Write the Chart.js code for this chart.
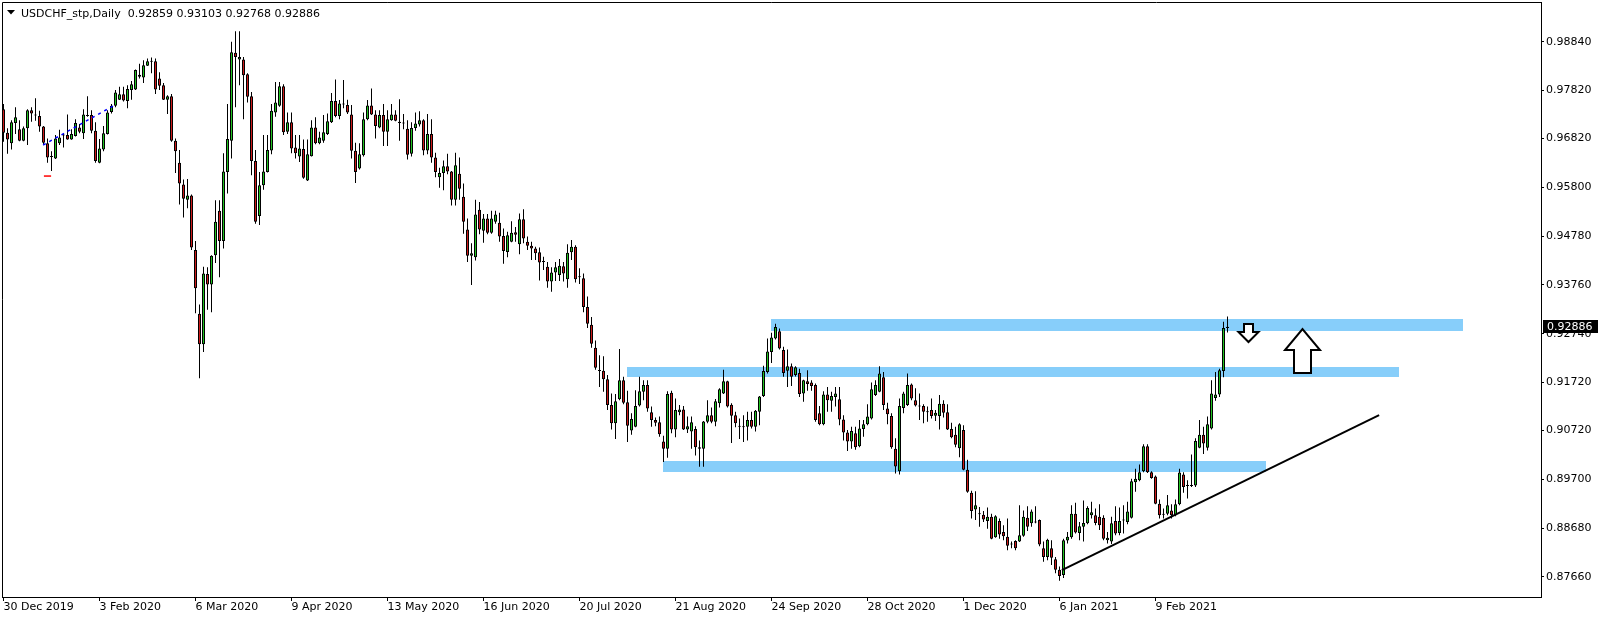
<!DOCTYPE html>
<html>
<head>
<meta charset="utf-8">
<script src="https://cdn.jsdelivr.net/npm/chart.js"></script>
<style>
  html, body { margin: 0; padding: 0; background: #fff; }
</style>
</head>
<body>
<canvas id="chart" width="1604" height="621"></canvas>
<script>
const symbol = 'USDCHF_stp';
const period = 'Daily';

// daily candles, 30 Dec 2019 .. 23 Feb 2021
const opens = [
  .9743,.9694,.9672,.9714,.9701,.9677,.9703,.9741,.9731,.9729,
  .9707,.9672,.9643,.9640,.9672,.9688,.9689,.9680,.9687,.9705,
  .9693,.9730,.9731,.9698,.9631,.9659,.9691,.9737,.9750,.9763,
  .9774,.9760,.9783,.9784,.9815,.9809,.9834,.9843,.9843,.9807,
  .9793,.9763,.9770,.9677,.9631,.9586,.9554,.9563,.9449,.9316,
  .9252,.9399,.9377,.9438,.9531,.9468,.9612,.9677,.9861,.9847,
  .9847,.9816,.9770,.9635,.9520,.9584,.9612,.9657,.9736,.9750,
  .9791,.9696,.9716,.9663,.9644,.9660,.9594,.9645,.9705,.9672,
  .9677,.9691,.9716,.9760,.9729,.9753,.9752,.9732,.9656,.9619,
  .9647,.9722,.9751,.9732,.9705,.9731,.9696,.9720,.9732,.9717,
  .9713,.9702,.9650,.9704,.9711,.9720,.9657,.9691,.9642,.9601,
  .9610,.9624,.9613,.9554,.9608,.9560,.9492,.9437,.9434,.9533,
  .9489,.9515,.9485,.9508,.9506,.9478,.9445,.9466,.9486,.9461,
  .9513,.9466,.9458,.9452,.9444,.9424,.9414,.9383,.9402,.9397,
  .9415,.9388,.9444,.9456,.9392,.9390,.9330,.9293,.9245,.9197,
  .9197,.9179,.9125,.9087,.9137,.9177,.9131,.9072,.9080,.9124,
  .9153,.9167,.9110,.9094,.9089,.9049,.9034,.9151,.9074,.9110,
  .9116,.9074,.9070,.9075,.9037,.9034,.9090,.9104,.9090,.9129,
  .9149,.9175,.9126,.9104,.9081,.9080,.9080,.9094,.9080,.9111,
  .9144,.9194,.9236,.9264,.9279,.9240,.9197,.9206,.9188,.9192,
  .9149,.9175,.9172,.9167,.9108,.9085,.9147,.9134,.9142,.9137,
  .9095,.9068,.9049,.9066,.9039,.9075,.9085,.9097,.9146,.9153,
  .9183,.9118,.9102,.9034,.8987,.9119,.9125,.9168,.9135,.9123,
  .9123,.9111,.9115,.9103,.9102,.9128,.9110,.9075,.9063,.9035,
  .9073,.8990,.8942,.8907,.8898,.8896,.8883,.8892,.8849,.8883,
  .8860,.8850,.8835,.8841,.8840,.8852,.8890,.8878,.8881,.8885,
  .8826,.8808,.8826,.8803,.8781,.8770,.8842,.8849,.8898,.8858,
  .8871,.8878,.8895,.8895,.8892,.8890,.8843,.8840,.8883,.8858,
  .8885,.8881,.8890,.8964,.8968,.8987,.9039,.8985,.8976,.8919,
  .8896,.8898,.8905,.8895,.8918,.8980,.8957,.8956,.8957,.9036,
  .9063,.9036,.9076,.9140,.9147,.9196,.92859
];
const highs = [
  .9754,.9703,.9720,.9747,.9720,.9707,.9743,.9747,.9766,.9740,
  .9708,.9682,.9655,.9689,.9700,.9693,.9732,.9701,.9722,.9712,
  .9743,.9770,.9741,.9716,.9681,.9708,.9741,.9754,.9783,.9790,
  .9790,.9793,.9802,.9826,.9838,.9845,.9849,.9851,.9849,.9820,
  .9798,.9772,.9775,.9682,.9658,.9596,.9597,.9565,.9468,.9335,
  .9414,.9413,.9438,.9553,.9553,.9651,.9754,.9884,.9906,.9906,
  .9852,.9818,.9779,.9658,.9612,.9689,.9689,.9754,.9800,.9800,
  .9795,.9736,.9736,.9689,.9689,.9680,.9680,.9720,.9726,.9696,
  .9731,.9734,.9777,.9805,.9762,.9804,.9763,.9752,.9673,.9672,
  .9736,.9762,.9786,.9741,.9741,.9754,.9741,.9754,.9741,.9764,
  .9733,.9720,.9716,.9736,.9739,.9722,.9733,.9722,.9652,.9621,
  .9636,.9650,.9614,.9652,.9642,.9588,.9515,.9463,.9554,.9549,
  .9524,.9524,.9531,.9531,.9527,.9494,.9487,.9509,.9497,.9525,
  .9534,.9477,.9466,.9456,.9454,.9435,.9424,.9413,.9424,.9430,
  .9424,.9461,.9470,.9459,.9411,.9400,.9352,.9309,.9260,.9229,
  .9227,.9188,.9149,.9148,.9242,.9184,.9155,.9108,.9156,.9184,
  .9177,.9177,.9122,.9099,.9101,.9061,.9154,.9155,.9139,.9125,
  .9123,.9101,.9101,.9081,.9051,.9092,.9135,.9120,.9138,.9160,
  .9199,.9176,.9129,.9111,.9097,.9104,.9111,.9111,.9115,.9144,
  .9207,.9264,.9276,.9295,.9285,.9247,.9241,.9212,.9206,.9201,
  .9178,.9198,.9177,.9170,.9123,.9154,.9163,.9153,.9163,.9163,
  .9104,.9073,.9080,.9080,.9094,.9094,.9127,.9172,.9177,.9206,
  .9194,.9130,.9108,.9056,.9139,.9153,.9191,.9170,.9160,.9149,
  .9127,.9122,.9139,.9115,.9146,.9135,.9127,.9088,.9080,.9087,
  .9083,.9011,.8946,.8945,.8912,.8904,.8911,.8898,.8895,.8888,
  .8874,.8888,.8840,.8843,.8916,.8905,.8914,.8907,.8914,.8886,
  .8840,.8846,.8843,.8808,.8788,.8846,.8860,.8916,.8921,.8881,
  .8926,.8914,.8923,.8909,.8918,.8895,.8860,.8892,.8914,.8911,
  .8916,.8923,.8971,.8992,.9001,.9043,.9043,.8987,.8978,.8928,
  .8909,.8937,.8918,.8928,.8992,.8985,.8968,.9022,.9056,.9094,
  .9080,.9101,.9177,.9194,.9201,.9299,.93103
];
const lows = [
  .9675,.9650,.9659,.9691,.9676,.9676,.9668,.9717,.9719,.9696,
  .9668,.9631,.9614,.9639,.9668,.9663,.9679,.9679,.9686,.9693,
  .9681,.9727,.9693,.9631,.9630,.9655,.9690,.9734,.9747,.9762,
  .9759,.9745,.9763,.9783,.9807,.9798,.9833,.9818,.9775,.9783,
  .9762,.9733,.9675,.9610,.9544,.9517,.9536,.9449,.9317,.9181,
  .9236,.9324,.9319,.9422,.9392,.9452,.9567,.9640,.9747,.9793,
  .9722,.9757,.9605,.9504,.9501,.9575,.9611,.9649,.9727,.9748,
  .9689,.9691,.9651,.9640,.9633,.9598,.9593,.9644,.9670,.9670,
  .9673,.9689,.9714,.9726,.9722,.9745,.9733,.9640,.9589,.9617,
  .9644,.9720,.9731,.9682,.9703,.9666,.9666,.9719,.9718,.9677,
  .9701,.9638,.9644,.9698,.9707,.9647,.9649,.9631,.9601,.9579,
  .9574,.9607,.9542,.9542,.9554,.9483,.9424,.9376,.9427,.9482,
  .9464,.9482,.9483,.9504,.9466,.9420,.9434,.9465,.9466,.9440,
  .9463,.9449,.9428,.9428,.9385,.9407,.9370,.9362,.9384,.9384,
  .9383,.9370,.9428,.9381,.9378,.9319,.9286,.9245,.9199,.9163,
  .9153,.9115,.9074,.9054,.9135,.9127,.9048,.9063,.9079,.9122,
  .9135,.9111,.9080,.9081,.9059,.9006,.9015,.9066,.9058,.9104,
  .9073,.9067,.9034,.9020,.8996,.8996,.9087,.9087,.9081,.9120,
  .9148,.9120,.9046,.9079,.9054,.9048,.9051,.9076,.9070,.9083,
  .9142,.9191,.9213,.9262,.9241,.9184,.9163,.9165,.9185,.9142,
  .9132,.9155,.9155,.9090,.9083,.9083,.9111,.9111,.9122,.9083,
  .9051,.9029,.9034,.9032,.9037,.9059,.9083,.9095,.9144,.9152,
  .9115,.9085,.9034,.8982,.8980,.9108,.9123,.9135,.9122,.9094,
  .9087,.9090,.9097,.9092,.9074,.9099,.9073,.9056,.9037,.9016,
  .8989,.8942,.8888,.8885,.8871,.8881,.8867,.8845,.8848,.8846,
  .8843,.8822,.8826,.8822,.8839,.8850,.8862,.8871,.8878,.8830,
  .8798,.8801,.8791,.8774,.8758,.8764,.8836,.8846,.8857,.8843,
  .8840,.8876,.8888,.8874,.8864,.8843,.8836,.8835,.8853,.8853,
  .8857,.8876,.8888,.8944,.8966,.8985,.8983,.8971,.8918,.8888,
  .8888,.8895,.8888,.8893,.8916,.8942,.8930,.8954,.8954,.9035,
  .9023,.9030,.9074,.9134,.9142,.9183,.92768
];
const closes = [
  .9694,.9680,.9716,.9726,.9677,.9703,.9741,.9734,.9730,.9707,
  .9673,.9642,.9644,.9682,.9684,.9689,.9680,.9691,.9714,.9696,
  .9732,.9729,.9698,.9635,.9661,.9693,.9736,.9750,.9778,.9774,
  .9761,.9785,.9795,.9825,.9811,.9835,.9843,.9842,.9784,.9792,
  .9763,.9770,.9677,.9655,.9588,.9556,.9563,.9454,.9369,.9252,
  .9400,.9377,.9437,.9508,.9468,.9613,.9681,.9862,.9852,.9852,
  .9814,.9769,.9635,.9508,.9584,.9613,.9658,.9740,.9757,.9791,
  .9695,.9716,.9661,.9651,.9661,.9600,.9649,.9705,.9672,.9684,
  .9695,.9718,.9760,.9729,.9755,.9754,.9736,.9656,.9612,.9649,
  .9722,.9751,.9732,.9708,.9731,.9696,.9722,.9732,.9719,.9714,
  .9714,.9648,.9704,.9713,.9720,.9657,.9691,.9642,.9612,.9610,
  .9624,.9613,.9554,.9626,.9577,.9508,.9437,.9442,.9523,.9492,
  .9515,.9485,.9515,.9523,.9477,.9447,.9480,.9485,.9481,.9513,
  .9473,.9458,.9452,.9442,.9423,.9425,.9383,.9402,.9413,.9416,
  .9400,.9443,.9456,.9388,.9393,.9330,.9295,.9253,.9203,.9196,
  .9179,.9125,.9087,.9133,.9177,.9130,.9082,.9096,.9123,.9154,
  .9167,.9118,.9094,.9088,.9064,.9034,.9148,.9074,.9115,.9116,
  .9074,.9081,.9089,.9037,.9034,.9091,.9104,.9090,.9133,.9158,
  .9175,.9122,.9103,.9087,.9080,.9079,.9094,.9080,.9113,.9143,
  .9196,.9237,.9266,.9288,.9243,.9192,.9206,.9184,.9204,.9148,
  .9177,.9169,.9165,.9094,.9085,.9147,.9135,.9144,.9149,.9095,
  .9068,.9049,.9071,.9037,.9076,.9085,.9101,.9158,.9167,.9191,
  .9125,.9106,.9037,.8997,.9123,.9149,.9167,.9139,.9124,.9122,
  .9111,.9110,.9102,.9109,.9128,.9109,.9074,.9058,.9042,.9085,
  .8990,.8944,.8904,.8916,.8897,.8886,.8892,.8846,.8893,.8855,
  .8851,.8831,.8834,.8826,.8853,.8892,.8871,.8903,.8880,.8834,
  .8808,.8844,.8806,.8781,.8768,.8843,.8850,.8898,.8859,.8872,
  .8879,.8910,.8901,.8879,.8874,.8846,.8848,.8878,.8857,.8883,
  .8884,.8903,.8966,.8971,.8985,.9039,.8985,.8973,.8919,.8895,
  .8897,.8916,.8895,.8918,.8984,.8954,.8956,.8957,.9050,.9063,
  .9045,.9085,.9149,.9147,.9198,.9286,.92886
];

// time axis: a label every 24 bars
const dateTickBars = [0, 24, 48, 72, 96, 120, 144, 168, 192, 216, 240, 264, 288];
const dateLabels = ['30 Dec 2019', '3 Feb 2020', '6 Mar 2020', '9 Apr 2020', '13 May 2020', '16 Jun 2020',
  '20 Jul 2020', '21 Aug 2020', '24 Sep 2020', '28 Oct 2020', '1 Dec 2020', '6 Jan 2021', '9 Feb 2021'];

const priceTicks = [0.98840, 0.97820, 0.96820, 0.95800, 0.94780, 0.93760,
  0.92740, 0.91720, 0.90720, 0.89700, 0.88680, 0.87660];

// objects drawn on the chart (bar index / price)
const zoneFrom = [191.9, 155.9, 164.9];
const zoneTo = [364.9, 348.9, 315.6];
const zoneTop = [0.93047, 0.92044, 0.90081];
const zoneBottom = [0.92796, 0.91836, 0.89851];

const trendBars = [264.6, 343.9];
const trendPrices = [0.87804, 0.91042];

const tradeBars = [9.9, 27.4];
const tradePrices = [0.96682, 0.97497];
const stopBars = [10.1, 11.9];
const stopPrices = [0.96034, 0.96034];

const arrowBars = [311.1, 324.5];
const arrowTail = [0.92943, 0.91919];
const arrowTip = [0.92567, 0.92838];

// look
const bullColor = '#22c322';
const bearColor = '#cc1a1a';
const zoneColor = '#87cefa';
const font = '"DejaVu Sans", Verdana, sans-serif';
const arrowHeadLen = [10, 21];
const arrowHeadHalf = [10, 17.5];
const arrowShaftHalf = [4.5, 8.5];

const last = closes.length - 1;

const drawnObjects = {
  id: 'drawnObjects',
  beforeDatasetsDraw(chart) {
    const { ctx, chartArea: a } = chart;
    const x = chart.scales.x, y = chart.scales.y;
    ctx.save();
    ctx.beginPath();
    ctx.rect(a.left, a.top, a.width, a.height);
    ctx.clip();
    ctx.fillStyle = zoneColor;
    for (let k = 0; k < zoneFrom.length; k++) {
      const x0 = Math.round(x.getPixelForValue(zoneFrom[k]));
      const x1 = Math.round(x.getPixelForValue(zoneTo[k]));
      const y0 = Math.round(y.getPixelForValue(zoneTop[k]));
      const y1 = Math.round(y.getPixelForValue(zoneBottom[k]));
      ctx.fillRect(x0, y0, x1 - x0, y1 - y0);
    }
    ctx.restore();
  },
  afterDatasetsDraw(chart) {
    const { ctx } = chart;
    const x = chart.scales.x, y = chart.scales.y;
    ctx.save();
    ctx.lineWidth = 2;
    ctx.strokeStyle = '#000';
    ctx.fillStyle = '#fff';
    for (let k = 0; k < arrowBars.length; k++) {
      const cx = Math.round(x.getPixelForValue(arrowBars[k])) + 0.5;
      const tail = Math.round(y.getPixelForValue(arrowTail[k]));
      const tip = Math.round(y.getPixelForValue(arrowTip[k]));
      const dir = tip > tail ? 1 : -1;
      const neck = tip - dir * arrowHeadLen[k];
      const hw = arrowHeadHalf[k], sw = arrowShaftHalf[k];
      ctx.beginPath();
      ctx.moveTo(cx - sw, tail);
      ctx.lineTo(cx + sw, tail);
      ctx.lineTo(cx + sw, neck);
      ctx.lineTo(cx + hw, neck);
      ctx.lineTo(cx, tip);
      ctx.lineTo(cx - hw, neck);
      ctx.lineTo(cx - sw, neck);
      ctx.closePath();
      ctx.fill();
      ctx.stroke();
    }
    ctx.restore();
  },
  afterDraw(chart) {
    const { ctx, chartArea: a } = chart;
    const y = chart.scales.y;
    ctx.save();
    // frame
    ctx.strokeStyle = '#000';
    ctx.lineWidth = 1;
    ctx.beginPath();
    ctx.moveTo(a.left + 0.5, a.bottom);
    ctx.lineTo(a.left + 0.5, a.top + 0.5);
    ctx.lineTo(a.right, a.top + 0.5);
    ctx.stroke();
    // header
    ctx.fillStyle = '#000';
    ctx.beginPath();
    ctx.moveTo(7, 10);
    ctx.lineTo(15, 10);
    ctx.lineTo(11, 14.5);
    ctx.closePath();
    ctx.fill();
    ctx.font = '11px ' + font;
    ctx.textBaseline = 'alphabetic';
    const ohlc = [opens[last], highs[last], lows[last], closes[last]].map(v => v.toFixed(5)).join(' ');
    ctx.fillText(symbol + ',' + period + '  ' + ohlc, 21, 17);
    // last price box on the price scale
    const py = Math.round(y.getPixelForValue(closes[last]));
    ctx.fillRect(a.right + 2, py - 7, 55, 13);
    ctx.fillStyle = '#fff';
    ctx.textBaseline = 'middle';
    ctx.fillText(closes[last].toFixed(5), a.right + 6, py);
    ctx.restore();
  }
};

const idx = closes.map((c, i) => i);

new Chart(document.getElementById('chart'), {
  type: 'bar',
  data: {
    datasets: [
      {
        type: 'line',
        data: trendBars.map((b, i) => ({ x: b, y: trendPrices[i] })),
        borderColor: '#000',
        borderWidth: 2,
        pointRadius: 0
      },
      {
        type: 'line',
        data: tradeBars.map((b, i) => ({ x: b, y: tradePrices[i] })),
        borderColor: '#0000ff',
        borderWidth: 1.5,
        borderDash: [3, 4],
        pointRadius: 0
      },
      {
        type: 'line',
        data: stopBars.map((b, i) => ({ x: b, y: stopPrices[i] })),
        borderColor: '#ff0000',
        borderWidth: 1.5,
        pointRadius: 0
      },
      {
        // candle bodies
        data: idx.map(i => ({ x: i, y: [opens[i], closes[i]] })),
        backgroundColor: idx.map(i => closes[i] >= opens[i] ? bullColor : bearColor),
        borderColor: '#000',
        borderWidth: 1,
        borderSkipped: false,
        barThickness: 3,
        minBarLength: 1,
        inflateAmount: 0,
        grouped: false
      },
      {
        // wicks
        data: idx.map(i => ({ x: i, y: [lows[i], highs[i]] })),
        backgroundColor: '#000',
        borderWidth: 0,
        barThickness: 1,
        inflateAmount: 0,
        grouped: false
      }
    ]
  },
  options: {
    responsive: false,
    animation: false,
    devicePixelRatio: 1,
    layout: { padding: { left: 2, top: 2, right: 0, bottom: 0 } },
    plugins: { legend: { display: false }, tooltip: { enabled: false } },
    scales: {
      x: {
        type: 'linear',
        min: -0.375,
        max: 384.375,
        offset: false,
        grid: { offset: false, drawOnChartArea: false, drawTicks: true, tickLength: 4, color: '#000' },
        border: { display: true, color: '#000' },
        afterBuildTicks: s => { s.ticks = dateTickBars.map(v => ({ value: v })); },
        afterFit: s => { s.height = 24; s.paddingLeft = 0; s.paddingRight = 0; },
        ticks: {
          autoSkip: false,
          maxRotation: 0,
          align: 'start',
          padding: 0,
          color: '#000',
          font: { family: font, size: 11 },
          callback: (v, i) => dateLabels[i]
        }
      },
      y: {
        type: 'linear',
        position: 'right',
        min: 0.872422,
        max: 0.996692,
        beginAtZero: false,
        grid: { drawOnChartArea: false, drawTicks: true, tickLength: 3, color: '#000' },
        border: { display: true, color: '#000' },
        afterBuildTicks: s => { s.ticks = priceTicks.map(v => ({ value: v })); },
        afterFit: s => { s.width = 63; s.paddingTop = 0; s.paddingBottom = 0; },
        ticks: {
          padding: 2,
          color: '#000',
          font: { family: font, size: 11 },
          callback: v => v.toFixed(5)
        }
      }
    }
  },
  plugins: [drawnObjects]
});
</script>
</body>
</html>
